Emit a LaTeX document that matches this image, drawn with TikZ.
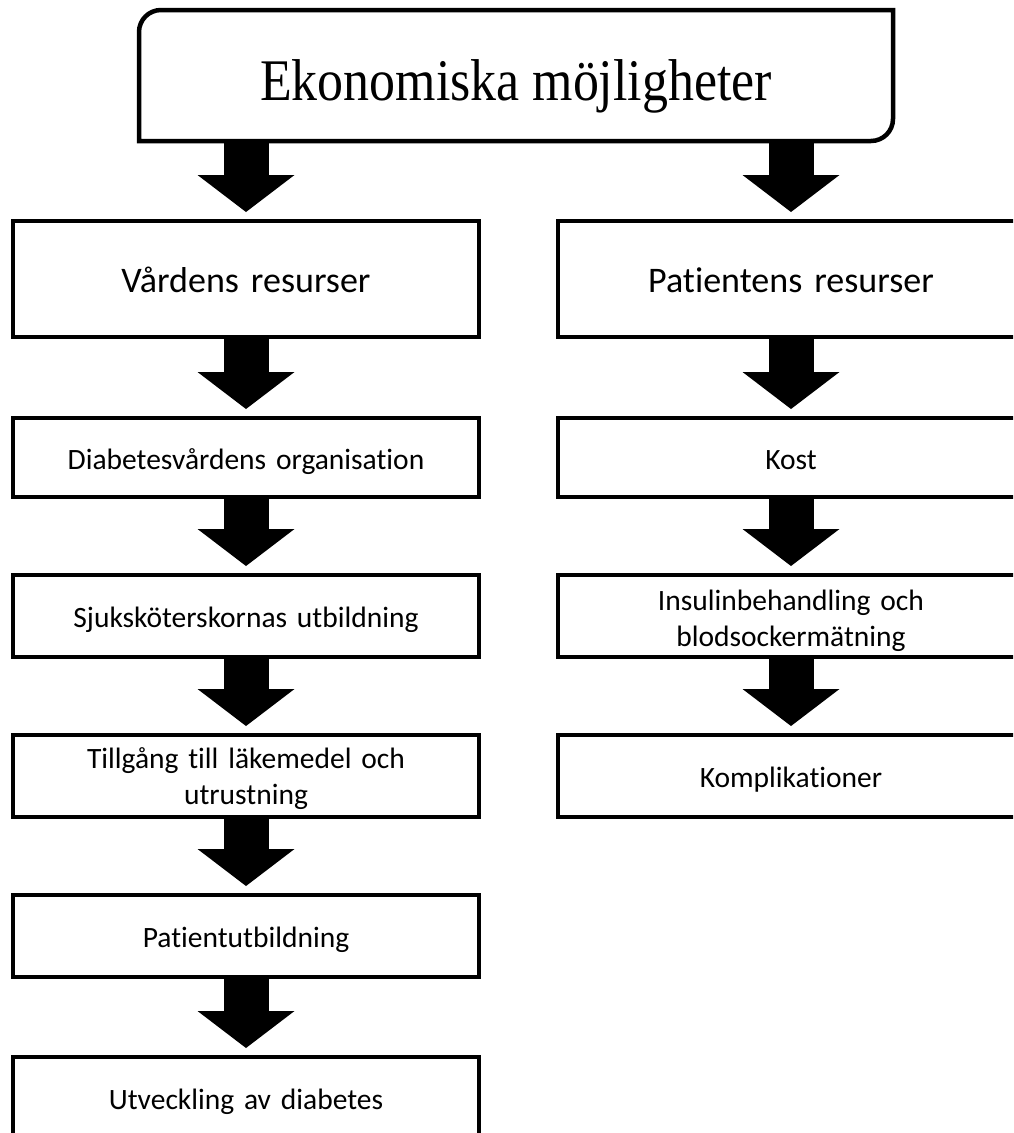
\documentclass[tikz,border=0pt]{standalone}
\usepackage{fontspec}
\usepackage{graphicx}
\setmainfont{Carlito}[Ligatures=NoCommon]
\newfontfamily\serifx{Liberation Serif}
\usetikzlibrary{arrows.meta}
\tikzset{
  x=1pt, y=1pt,
  box/.style={draw, line width=4.5pt, inner sep=0pt, outer sep=0pt, align=center,
    minimum width=466pt, text width=440pt},
  bigbox/.style={box, minimum height=116pt, text height=26pt, text depth=0pt,
    font=\fontsize{36}{44}\selectfont},
  smallbox/.style={box, minimum height=82pt, text height=23pt, text depth=0pt,
    font=\fontsize{29.5}{36.5}\selectfont},
  twoline/.style={smallbox, text height=25pt, text depth=#1},
  topbox/.style={inner sep=0pt, outer sep=0pt, minimum width=754pt, minimum height=131pt,
    text height=49pt, text depth=0pt, font=\serifx\fontsize{59}{64}\selectfont},
  bigarrow/.style={line width=45pt, -{Triangle[length=37pt,width=97pt,line width=0pt]}, shorten >=9pt},
}
\begin{document}
\begin{tikzpicture}
\useasboundingbox (0,0) rectangle (1013,-1133);
\clip (0,0) rectangle (1013,-1133);
% top box
\node[topbox] (top) at (516,-75.5) {\scalebox{0.88}[1]{Ekonomiska möjligheter}};
\draw[line width=4.5pt] (top.south west) -- ([yshift=-22pt]top.north west)
  arc[start angle=180, end angle=90, radius=22pt] -- (top.north east)
  -- ([yshift=22pt]top.south east) arc[start angle=0, end angle=-90, radius=22pt] -- cycle;
% left column
\node[bigbox] (l1) at (246,-279) {Vårdens resurser};
\node[smallbox, minimum height=79pt] (l2) at (246,-457.5) {Diabetesvårdens organisation};
\node[smallbox] (l3) at (246,-616) {Sjuksköterskornas utbildning};
\node[twoline=41pt] (l4) at (246,-776) {Tillgång till läkemedel och\\utrustning};
\node[smallbox] (l5) at (246,-936) {Patientutbildning};
\node[smallbox] (l6) at (246,-1098) {Utveckling av diabetes};
% right column
\node[bigbox] (r1) at (791,-279) {Patientens resurser};
\node[smallbox, minimum height=79pt] (r2) at (791,-457.5) {Kost};
\node[twoline=37pt] (r3) at (791,-616) {Insulinbehandling och\\blodsockermätning};
\node[smallbox] (r4) at (791,-776) {Komplikationer};
% arrows
\draw[bigarrow] (l1.north |- top.south) -- (l1.north);
\draw[bigarrow] (r1.north |- top.south) -- (r1.north);
\draw[bigarrow] (l1.south) -- (l2.north);
\draw[bigarrow] (l2.south) -- (l3.north);
\draw[bigarrow] (l3.south) -- (l4.north);
\draw[bigarrow] (l4.south) -- (l5.north);
\draw[bigarrow] (l5.south) -- (l6.north);
\draw[bigarrow] (r1.south) -- (r2.north);
\draw[bigarrow] (r2.south) -- (r3.north);
\draw[bigarrow] (r3.south) -- (r4.north);
\end{tikzpicture}
\end{document}
